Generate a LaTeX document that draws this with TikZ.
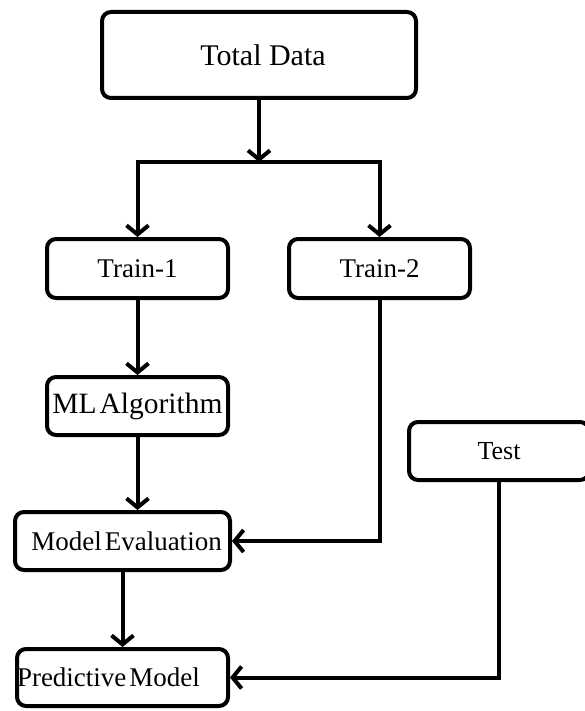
\documentclass[tikz,border=0pt]{standalone}
\usepackage{fontspec}
\setmainfont{Liberation Serif}
\usetikzlibrary{arrows.meta}

\begin{document}
\begin{tikzpicture}[x=1pt, y=-1pt]

\def\xl{137.5}
\def\xr{379.5}
\def\ysplit{162}

\tikzset{box/.style = {draw, line width=4pt, rounded corners=9pt, inner sep=0pt,
                       font=\fontsize{27}{30}\selectfont}}
\tikzset{flow/.style = {line width=4pt,
                        -{Straight Barb[length=9pt, width=22pt, line width=4pt]}}}

\useasboundingbox (0,0) rectangle (584,711);

%boxes
\node[box, minimum width=314pt, minimum height=86pt, font=\fontsize{30}{34}\selectfont]
     (total) at (259, 55) {\hspace{8pt}Total Data};
\node[box, minimum width=181pt, minimum height=59pt] (train1) at (\xl, 268.5) {Train-1};
\node[box, minimum width=181pt, minimum height=59pt] (train2) at (\xr, 268.5) {Train-2};
\node[box, minimum width=181pt, minimum height=58pt, font=\fontsize{29.5}{32}\selectfont]
     (mlalg) at (\xl, 406) {ML\hspace{3pt}Algorithm};
\node[box, minimum width=215pt, minimum height=58pt, font=\fontsize{27}{30}\selectfont]
     (modeval) at (122.5, 541) {\hspace{8pt}Model\hspace{3pt}Evaluation};
\node[box, minimum width=211pt, minimum height=57pt, text width=211pt, align=left]
     (predmod) at (122.5, 677.5) {Predictive\hspace{3pt}Model};
\node[box, minimum width=180pt, minimum height=58pt, font=\fontsize{26}{30}\selectfont]
     (test) at (499, 451) {Test};

\coordinate (splitl) at (\xl, \ysplit);
\coordinate (splitr) at (\xr, \ysplit);

%split of the data
\draw[flow] (total.south) -- (total.south |- splitl);
\draw[flow] (splitr) -| (train1.north);
\draw[flow] (splitl) -| (train2.north);

%left column
\draw[flow] (train1.south) -- (mlalg.north);
\draw[flow] (mlalg.south) -- (mlalg.south |- modeval.north);
\draw[flow] (modeval.south) -- (predmod.north);

%right side
\draw[flow] (train2.south) |- (modeval.east);
\draw[flow] (test.south) |- (predmod.east);

\end{tikzpicture}
\end{document}
